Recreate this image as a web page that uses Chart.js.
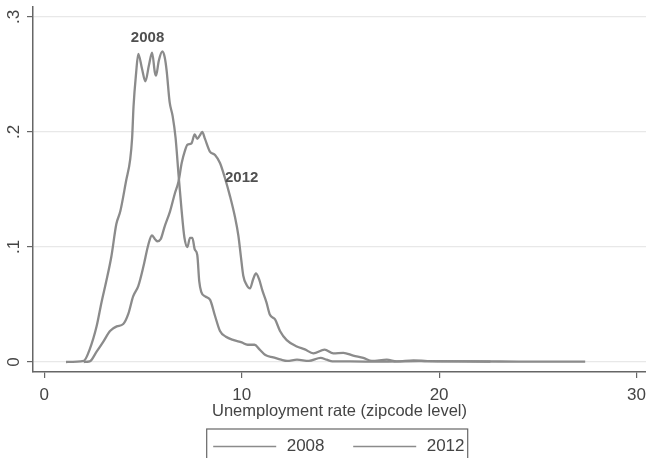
<!DOCTYPE html>
<html>
<head>
<meta charset="utf-8">
<script src="https://cdn.jsdelivr.net/npm/chart.js@4/dist/chart.umd.min.js"></script>
<style>
  html, body { margin: 0; padding: 0; background: #ffffff; }
  #wrap { width: 646px; height: 458px; }
</style>
</head>
<body>
<div id="wrap"><canvas id="c" width="646" height="458"></canvas></div>
<script>
// Kernel density of zipcode-level unemployment rates, 2008 vs 2012
const rate2008 = [1.1, 2.0, 2.3, 2.65, 2.9, 3.15, 3.4, 3.65, 3.85, 4.15, 4.35, 4.45, 4.52, 4.65, 4.76, 4.95, 5.12, 5.3, 5.46, 5.6, 5.66, 5.8, 5.98, 6.1, 6.2, 6.35, 6.5, 6.65, 6.8, 6.95, 7.1, 7.25, 7.38, 7.5, 7.62, 7.75, 7.85, 7.95, 8.15, 8.4, 8.65, 8.9, 9.2, 9.6, 10.0, 10.3, 10.65, 10.9, 11.2, 11.6, 12.0, 12.3, 12.8, 13.4, 14.0, 14.3, 14.6, 15.5, 17.0, 19.0, 22.6];
const dens2008 = [0, 0.001, 0.011, 0.031, 0.052, 0.071, 0.092, 0.120, 0.131, 0.158, 0.176, 0.195, 0.222, 0.251, 0.268, 0.255, 0.244, 0.258, 0.269, 0.252, 0.249, 0.262, 0.270, 0.265, 0.253, 0.226, 0.214, 0.195, 0.163, 0.133, 0.108, 0.100, 0.108, 0.108, 0.098, 0.093, 0.070, 0.061, 0.057, 0.054, 0.040, 0.027, 0.022, 0.019, 0.017, 0.015, 0.015, 0.011, 0.006, 0.004, 0.002, 0.001, 0.002, 0.001, 0.0035, 0.002, 0.0005, 0.0005, 0.0003, 0.0008, 0.0003];

const rate2012 = [2.0, 2.3, 2.65, 3.0, 3.33, 3.67, 4.0, 4.26, 4.5, 4.76, 5.02, 5.27, 5.45, 5.6, 5.72, 5.9, 6.1, 6.37, 6.62, 6.8, 6.96, 7.13, 7.25, 7.45, 7.62, 7.75, 7.88, 8.0, 8.14, 8.39, 8.65, 8.9, 9.15, 9.41, 9.66, 9.83, 9.95, 10.08, 10.25, 10.42, 10.58, 10.72, 10.88, 11.05, 11.25, 11.43, 11.69, 11.94, 12.28, 12.79, 13.2, 13.63, 14.2, 14.64, 15.15, 15.65, 16.16, 16.6, 17.35, 17.85, 18.7, 19.4, 21.0, 24.0, 27.4];
const dens2012 = [0, 0.0005, 0.009, 0.018, 0.027, 0.031, 0.033, 0.042, 0.057, 0.066, 0.083, 0.102, 0.110, 0.107, 0.105, 0.107, 0.118, 0.131, 0.147, 0.157, 0.173, 0.184, 0.189, 0.190, 0.198, 0.194, 0.197, 0.200, 0.194, 0.183, 0.180, 0.173, 0.160, 0.144, 0.126, 0.110, 0.093, 0.075, 0.067, 0.064, 0.072, 0.077, 0.072, 0.062, 0.052, 0.041, 0.037, 0.027, 0.019, 0.0135, 0.011, 0.0075, 0.0107, 0.0075, 0.008, 0.0055, 0.0035, 0.001, 0.002, 0.0005, 0.0014, 0.0008, 0.0005, 0.0004, 0.0003];

const seriesNames = ['2008', '2012'];
const xTicks = [0, 10, 20, 30];
const yTicks = [0, 0.1, 0.2, 0.3];
const yTickLabels = ['0', '.1', '.2', '.3'];
const xTitle = 'Unemployment rate (zipcode level)';
// in-plot curve labels: [text, rate, density]
const curveLabels = [['2008', 5.23, 0.282], ['2012', 10.0, 0.160]];

const LINE = '#8b8b8b';
const AXIS = '#666666';
const TEXT = '#444444';
const FONT = "'Liberation Sans', Arial, Helvetica, sans-serif";

function pts(xs, ys) { return xs.map((x, i) => ({ x: x, y: ys[i] })); }

const curveLabelPlugin = {
  id: 'curveLabels',
  afterDatasetsDraw(chart) {
    const { ctx, scales } = chart;
    ctx.save();
    ctx.fillStyle = '#505050';
    ctx.font = 'bold 15px ' + FONT;
    ctx.textAlign = 'center';
    ctx.textBaseline = 'middle';
    curveLabels.forEach(([t, x, y]) => {
      ctx.fillText(t, scales.x.getPixelForValue(x), scales.y.getPixelForValue(y));
    });
    ctx.restore();
  }
};

const boxedLegendPlugin = {
  id: 'boxedLegend',
  afterDraw(chart) {
    const { ctx, chartArea } = chart;
    const cx = (chartArea.left + chartArea.right) / 2 - 2.3;
    const top = chartArea.bottom + 57;
    const left = cx - 130.5;
    const right = cx + 130.5;
    ctx.save();
    ctx.strokeStyle = AXIS;
    ctx.lineWidth = 1.2;
    ctx.strokeRect(left, top, right - left, 60);
    ctx.font = '17px ' + FONT;
    ctx.textAlign = 'left';
    ctx.textBaseline = 'middle';
    const ly = top + 17.5;
    chart.data.datasets.forEach((ds, i) => {
      const x0 = left + 6.5 + i * 140;
      ctx.strokeStyle = ds.borderColor;
      ctx.lineWidth = 1.6;
      ctx.beginPath();
      ctx.moveTo(x0, ly);
      ctx.lineTo(x0 + 63, ly);
      ctx.stroke();
      ctx.fillStyle = TEXT;
      ctx.fillText(ds.label, x0 + 73.5, ly);
    });
    ctx.restore();
  }
};

new Chart(document.getElementById('c'), {
  type: 'line',
  data: {
    datasets: [
      { label: seriesNames[0], data: pts(rate2008, dens2008), borderColor: LINE, borderWidth: 2.3,
        pointRadius: 0, fill: false, cubicInterpolationMode: 'monotone' },
      { label: seriesNames[1], data: pts(rate2012, dens2012), borderColor: LINE, borderWidth: 2.3,
        pointRadius: 0, fill: false, cubicInterpolationMode: 'monotone' }
    ]
  },
  options: {
    responsive: false,
    animation: false,
    devicePixelRatio: 1,
    layout: { padding: { left: 0, right: 0, top: 7, bottom: 0 } },
    plugins: { legend: { display: false }, tooltip: { enabled: false } },
    scales: {
      x: {
        type: 'linear',
        min: -0.572,
        max: 30.48,
        afterBuildTicks(s) { s.ticks = xTicks.map(v => ({ value: v })); },
        afterFit(s) { s.height = 86; s.paddingLeft = 0; s.paddingRight = 0; },
        grid: { drawOnChartArea: false, tickColor: AXIS, tickLength: 6, lineWidth: 1.2 },
        border: { color: AXIS, width: 1.5 },
        ticks: { color: TEXT, font: { family: FONT, size: 17 }, padding: 7, maxRotation: 0 },
        title: { display: true, text: xTitle, color: TEXT, font: { family: FONT, size: 16.5 },
                 padding: { top: 0, bottom: 37 } }
      },
      y: {
        type: 'linear',
        min: -0.0087,
        max: 0.3087,
        afterBuildTicks(s) { s.ticks = yTicks.map(v => ({ value: v })); },
        afterFit(s) { s.width = 33; s.paddingTop = 0; s.paddingBottom = 0; },
        grid: { color: '#e8e8e8', tickColor: AXIS, tickLength: 6, lineWidth: 1.2 },
        border: { color: AXIS, width: 1.5 },
        ticks: {
          color: TEXT, font: { family: FONT, size: 17 }, padding: 6,
          minRotation: 90, maxRotation: 90, crossAlign: 'center',
          callback(v) { const i = yTicks.indexOf(v); return i >= 0 ? yTickLabels[i] : ''; }
        }
      }
    }
  },
  plugins: [curveLabelPlugin, boxedLegendPlugin]
});
</script>
</body>
</html>
